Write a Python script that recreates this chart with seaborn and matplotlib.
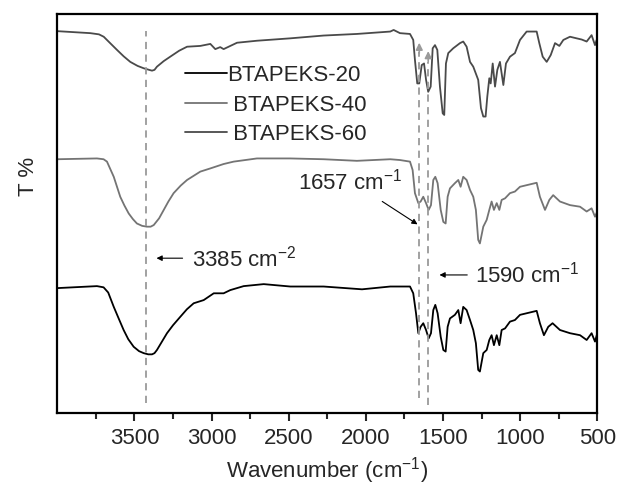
import numpy as np
import pandas as pd
import matplotlib
matplotlib.use("Agg")
import matplotlib.pyplot as plt
import seaborn as sns

# FTIR spectra (arbitrary T units, curves offset)
wn_20 = [4000, 3743, 3700, 3670, 3634, 3600, 3570, 3540, 3505, 3470, 3440, 3410, 3386, 3370, 3354, 3320,
         3289, 3250, 3203, 3160, 3116, 3051, 2986, 2922, 2879,
         2792, 2662, 2490, 2274, 2025, 1842, 1779, 1714, 1693, 1675, 1660, 1645, 1628, 1610, 1593, 1578,
         1563, 1550, 1535, 1515, 1498, 1483, 1470, 1455, 1423, 1401, 1386, 1369, 1347, 1325, 1304, 1287,
         1272, 1261, 1239, 1217, 1200, 1185, 1170, 1152, 1135, 1120, 1098, 1066, 1034, 1001, 958, 893,
         872, 846, 818, 790, 742, 677, 612, 569, 537, 515, 500]
t_20 = [31.3, 31.8, 31.5, 30.2, 26.6, 23.5, 20.8, 18.5, 16.6, 15.5, 15.0, 14.7, 14.7, 15.0, 15.8, 18.0,
        20.0, 22.0, 24.1, 26.0, 27.5, 28.3, 30.0, 30.0, 30.8,
        31.8, 32.3, 31.7, 31.7, 31.0, 31.7, 31.7, 31.7, 30.0, 25.0, 20.0, 21.6, 22.5, 20.8, 18.7, 20.0,
        25.8, 27.1, 25.0, 19.1, 15.8, 15.4, 21.6, 23.7, 24.6, 25.8, 22.5, 26.6, 25.8, 23.3, 20.8, 17.5,
        10.8, 10.4, 15.0, 15.8, 18.3, 19.5, 17.0, 19.5, 17.0, 20.8, 21.2, 22.9, 23.3, 24.6, 25.0, 25.6,
        22.5, 19.5, 21.6, 22.5, 20.8, 20.0, 19.5, 18.3, 20.0, 17.9, 20.0]

wn_40 = [4000, 3743, 3700, 3678, 3634, 3592, 3565, 3537, 3510, 3484, 3450, 3419, 3395, 3375, 3340, 3310,
         3280, 3246, 3200, 3159, 3073, 3008, 2922, 2857,
         2706, 2490, 2274, 2058, 1842, 1779, 1714, 1697, 1682, 1660, 1645, 1628, 1610, 1593, 1578, 1563,
         1550, 1535, 1515, 1498, 1483, 1470, 1455, 1423, 1401, 1386, 1369, 1347, 1325, 1304, 1287, 1272,
         1261, 1239, 1217, 1200, 1185, 1170, 1152, 1135, 1120, 1098, 1066, 1034, 1001, 958, 893, 872,
         839, 811, 786, 742, 677, 612, 569, 537, 515, 500]
t_40 = [63.6, 63.8, 63.6, 63.0, 59.2, 54.2, 52.0, 50.0, 48.6, 47.5, 46.9, 46.7, 46.7, 47.1, 48.8, 50.9,
        53.0, 55.1, 57.0, 58.4, 60.5, 61.3, 62.4, 63.0,
        63.8, 63.8, 63.6, 63.2, 63.6, 63.4, 63.0, 60.9, 55.1, 52.6, 53.0, 54.2, 52.6, 50.9, 52.1, 58.4,
        59.2, 57.6, 50.9, 47.9, 47.5, 54.2, 56.3, 57.6, 58.4, 56.7, 59.2, 58.4, 55.9, 54.2, 50.9, 43.4,
        42.5, 46.7, 48.4, 50.9, 53.0, 50.9, 52.6, 50.9, 53.4, 53.8, 55.1, 55.5, 56.7, 57.1, 57.7, 54.2,
        50.9, 53.4, 54.6, 53.0, 52.1, 51.7, 50.5, 51.3, 49.2, 50.5]

wn_60 = [4000, 3786, 3730, 3699, 3660, 3613, 3570, 3527, 3480, 3440, 3405, 3386, 3370, 3354, 3310, 3268,
         3210, 3159, 3073, 3008, 2976, 2944, 2922, 2835,
         2706, 2490, 2274, 2058, 1842, 1820, 1779, 1714, 1693, 1682, 1667, 1654, 1638, 1623, 1610, 1596,
         1580, 1567, 1552, 1537, 1520, 1502, 1492, 1481, 1466, 1434, 1390, 1369, 1347, 1325, 1304, 1272,
         1254, 1239, 1224, 1213, 1200, 1191, 1178, 1163, 1148, 1131, 1109, 1092, 1066, 1034, 1001, 958,
         893, 876, 854, 828, 802, 774, 746, 720, 677, 634, 601, 569, 537, 515, 504]
t_60 = [95.7, 95.2, 94.9, 94.3, 92.8, 91.0, 89.4, 88.0, 87.0, 86.4, 86.0, 85.8, 86.0, 86.8, 88.2, 89.3,
        90.8, 91.8, 92.0, 92.5, 91.2, 91.7, 91.2, 92.8,
        93.3, 93.9, 94.6, 95.0, 95.6, 96.0, 95.2, 95.0, 93.5, 88.5, 82.6, 82.6, 87.2, 87.6, 83.5, 80.5,
        81.8, 91.4, 92.2, 91.0, 81.8, 75.1, 74.7, 87.6, 90.2, 91.4, 92.7, 93.1, 91.8, 88.0, 86.8, 83.5,
        76.4, 74.3, 74.3, 79.3, 83.9, 82.6, 87.6, 81.8, 86.0, 88.0, 82.2, 87.6, 89.3, 90.2, 93.5, 95.6,
        95.6, 92.7, 89.3, 88.0, 89.7, 92.7, 92.0, 93.5, 94.3, 93.9, 93.6, 93.1, 94.7, 92.2, 93.5]

samples = ["BTAPEKS-20", "BTAPEKS-40", "BTAPEKS-60"]
legend_labels = ["BTAPEKS-20", " BTAPEKS-40", " BTAPEKS-60"]
colors = {"BTAPEKS-20": "#000000", "BTAPEKS-40": "#747474", "BTAPEKS-60": "#4a4a4a"}

df = pd.concat([
    pd.DataFrame({"wavenumber": wn_20, "T": t_20, "sample": "BTAPEKS-20"}),
    pd.DataFrame({"wavenumber": wn_40, "T": t_40, "sample": "BTAPEKS-40"}),
    pd.DataFrame({"wavenumber": wn_60, "T": t_60, "sample": "BTAPEKS-60"}),
])

sns.set_style("ticks")
plt.rcParams["font.family"] = ["Liberation Sans", "DejaVu Sans"]
plt.rcParams["mathtext.fontset"] = "custom"
plt.rcParams["mathtext.rm"] = "Liberation Sans"
plt.rcParams["mathtext.it"] = "Liberation Sans:italic"

fs = 16

fig = plt.figure(figsize=(6.2, 4.86), dpi=100)
ax = fig.add_axes([0.0924, 0.1502, 0.871, 0.821])

sns.lineplot(data=df, x="wavenumber", y="T", hue="sample", hue_order=samples, palette=colors,
             linewidth=1.3, legend=False, ax=ax, estimator=None)
handles = list(ax.lines[:3])

# marker lines
gray = "#9a9a9a"
ax.plot([3425, 3425], [2.6, 95.8], ls=(0, (4, 3)), color=gray, lw=1.3)
ax.plot([1654, 1654], [3.8, 90.5], ls=(0, (4, 3)), color=gray, lw=1.3)
ax.plot([1596, 1596], [2.0, 88.0], ls=(0, (4, 3)), color=gray, lw=1.3)
for x0, y0 in [(1654, 93.5), (1596, 91.4)]:
    ax.annotate("", xy=(x0, y0), xytext=(x0, y0 - 4),
                arrowprops=dict(arrowstyle="-|>", color=gray, lw=1.2, mutation_scale=10))

# annotations
ax.annotate("", xy=(3375, 38.8), xytext=(3170, 38.8),
            arrowprops=dict(arrowstyle="-|>", color="black", lw=0.8, mutation_scale=8))
ax.text(3128, 38.8, "3385 cm$^{-2}$", fontsize=fs, va="center", ha="left")
ax.annotate("", xy=(1541, 34.6), xytext=(1325, 34.6),
            arrowprops=dict(arrowstyle="-|>", color="black", lw=0.8, mutation_scale=8))
ax.text(1293, 34.6, "1590 cm$^{-1}$", fontsize=fs, va="center", ha="left")
ax.annotate("", xy=(1650, 46.9), xytext=(1909, 53.4),
            arrowprops=dict(arrowstyle="-|>", color="black", lw=0.8, mutation_scale=8))
ax.text(2440, 58.1, "1657 cm$^{-1}$", fontsize=fs, va="center", ha="left")

ax.legend(handles, legend_labels, loc="upper left", bbox_to_anchor=(0.236, 0.872), frameon=False,
          fontsize=fs, handlelength=1.9, handletextpad=0.0, labelspacing=0.38,
          borderpad=0, borderaxespad=0)

ax.set_xlim(4000, 500)
ax.set_ylim(0, 100)
ax.set_xticks([3500, 3000, 2500, 2000, 1500, 1000, 500])
ax.set_xticks([3750, 3250, 2750, 2250, 1750, 1250, 750], minor=True)
ax.set_yticks([])
ax.tick_params(axis="x", which="major", direction="out", length=5.5, width=1.5, labelsize=fs, pad=5)
ax.tick_params(axis="x", which="minor", direction="out", length=4, width=1.5)
for s in ax.spines.values():
    s.set_linewidth(1.6)
    s.set_color("black")

ax.set_xlabel("Wavenumber (cm$^{-1}$)", fontsize=fs, labelpad=5)
ax.set_ylabel("T %", fontsize=fs)
ax.yaxis.set_label_coords(-0.034, 0.594)

fig.savefig("out.png", dpi=100)
